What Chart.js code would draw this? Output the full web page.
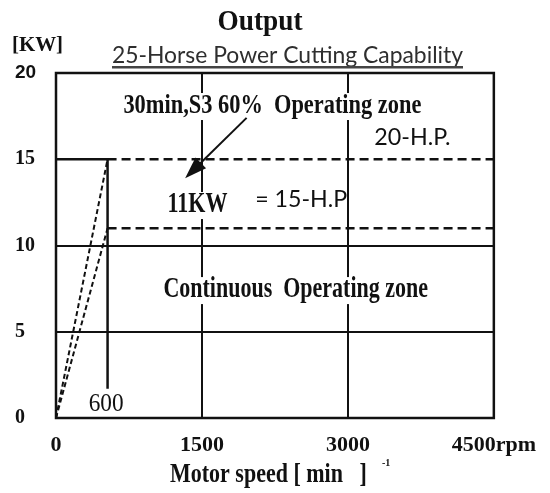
<!DOCTYPE html>
<html>
<head>
<meta charset="utf-8">
<script src="https://cdn.jsdelivr.net/npm/chart.js@4.4.1/dist/chart.umd.min.js"></script>
<style>
  body { margin: 0; background: #fff; }
  canvas { display: block; }
</style>
</head>
<body>
<canvas id="chart" width="550" height="493"></canvas>
<script>
// axis ticks
const speedTicks = [0, 1500, 3000, 4500];
const powerTicks = [0, 5, 10, 15, 20];

// solid limit line: 15 kW up to base speed, then down the base speed line
const limitSpeed = [0, 530, 530];
const limitPower = [15, 15, 1.7];

// 30min S3 60% output above base speed
const s3Speed = [530, 4500];
const s3Power = [15, 15];

// continuous output above base speed
const contSpeed = [530, 4500];
const contPower = [11, 11];

// constant torque ramps below base speed
const rampS3Speed = [0, 530];
const rampS3Power = [0, 15];
const rampContSpeed = [0, 530];
const rampContPower = [0, 11];

const serif = '"Liberation Serif", "Times New Roman", serif';
const sans = 'Lato, "Liberation Sans", sans-serif';
const ink = '#111';

function pts(xs, ys) {
    return xs.map((x, i) => ({ x: x, y: ys[i] }));
}

function fitFont(ctx, text, weight, family, width) {
    ctx.font = weight + ' 100px ' + family;
    const size = 100 * width / ctx.measureText(text).width;
    return weight + ' ' + size.toFixed(1) + 'px ' + family;
}

// text stretched vertically like the scanned original
function tallText(ctx, text, x, y, sy) {
    ctx.save();
    ctx.translate(x, y);
    ctx.scale(1, sy);
    ctx.fillText(text, 0, 0);
    ctx.restore();
}

// notes inside the plot, placed in data units
const notes = [
    { text: '30min,S3 60%  Operating zone', x: 2224, y: 17.68, w: 298, sy: 1.25, weight: 'bold', family: serif, clear: true },
    { text: '20-H.P.', x: 3663, y: 15.83, w: 76, sy: 1, weight: 'normal', family: sans, clear: false },
    { text: '11KW', x: 1454, y: 11.94, w: 60, sy: 1.3, weight: 'bold', family: serif, clear: true },
    { text: '= 15-H.P', x: 2520, y: 12.23, w: 92, sy: 1, weight: 'normal', family: sans, clear: false },
    { text: 'Continuous  Operating zone', x: 2464, y: 7.01, w: 265, sy: 1.3, weight: 'bold', family: serif, clear: true },
    { text: '600', x: 515, y: 0.41, w: 35, sy: 1.1, weight: 'normal', family: serif, clear: false }
];

const arrowFrom = { x: 1959, y: 17.4 };
const arrowTo = { x: 1327, y: 13.9 };

const dashedLine = (data, dash, width) => ({
    data: data,
    showLine: true,
    borderColor: ink,
    borderWidth: width,
    borderDash: dash,
    pointRadius: 0,
    fill: false
});

const decorations = {
    id: 'decorations',
    afterDatasetsDraw(chart) {
        const ctx = chart.ctx;
        const xs = chart.scales.x;
        const ys = chart.scales.y;
        const area = chart.chartArea;
        ctx.save();

        // frame
        ctx.strokeStyle = ink;
        ctx.lineWidth = 2.5;
        ctx.strokeRect(area.left, area.top, area.right - area.left, area.bottom - area.top);

        ctx.textAlign = 'center';
        ctx.textBaseline = 'alphabetic';
        notes.forEach(n => {
            ctx.font = fitFont(ctx, n.text, n.weight, n.family, n.w);
            const px = xs.getPixelForValue(n.x);
            const py = ys.getPixelForValue(n.y);
            if (n.clear) {
                ctx.fillStyle = '#fff';
                ctx.fillRect(px - n.w / 2 - 2, py - 20, n.w + 4, 27);
            }
            ctx.fillStyle = ink;
            tallText(ctx, n.text, px, py, n.sy);
        });

        // arrow
        const x1 = xs.getPixelForValue(arrowFrom.x), y1 = ys.getPixelForValue(arrowFrom.y);
        const x2 = xs.getPixelForValue(arrowTo.x), y2 = ys.getPixelForValue(arrowTo.y);
        const ang = Math.atan2(y2 - y1, x2 - x1);
        ctx.strokeStyle = ink;
        ctx.lineWidth = 2;
        ctx.beginPath();
        ctx.moveTo(x1, y1);
        ctx.lineTo(x2 - 16 * Math.cos(ang), y2 - 16 * Math.sin(ang));
        ctx.stroke();
        ctx.fillStyle = ink;
        ctx.beginPath();
        ctx.moveTo(x2, y2);
        ctx.lineTo(x2 - 22 * Math.cos(ang) + 7.5 * Math.sin(ang), y2 - 22 * Math.sin(ang) - 7.5 * Math.cos(ang));
        ctx.lineTo(x2 - 22 * Math.cos(ang) - 7.5 * Math.sin(ang), y2 - 22 * Math.sin(ang) + 7.5 * Math.cos(ang));
        ctx.closePath();
        ctx.fill();

        // titles and axis captions
        ctx.fillStyle = ink;
        ctx.font = fitFont(ctx, 'Output', 'bold', serif, 85);
        tallText(ctx, 'Output', 260, 30, 1.05);

        ctx.fillStyle = '#2e2e2e';
        ctx.font = fitFont(ctx, '25-Horse Power Cutting Capability', 'normal', sans, 351);
        ctx.fillText('25-Horse Power Cutting Capability', 287.5, 63);
        ctx.fillStyle = '#444';
        ctx.fillRect(112, 66, 351, 2.5);

        ctx.fillStyle = ink;
        ctx.textAlign = 'left';
        ctx.font = fitFont(ctx, '[KW]', 'bold', serif, 51);
        ctx.fillText('[KW]', 12, 51);

        ctx.font = fitFont(ctx, 'Motor speed [ min   ]', 'bold', serif, 197);
        tallText(ctx, 'Motor speed [ min   ]', 170, 482, 1.2);
        ctx.font = 'bold 10px ' + serif;
        ctx.fillText('-1', 382, 466);

        ctx.restore();
    }
};

new Chart(document.getElementById('chart'), {
    type: 'scatter',
    data: {
        datasets: [
            { data: pts(limitSpeed, limitPower), showLine: true, borderColor: ink, borderWidth: 2.5, pointRadius: 0, fill: false },
            dashedLine(pts(s3Speed, s3Power), [9, 5], 2.5),
            dashedLine(pts(contSpeed, contPower), [9, 5], 2.5),
            dashedLine(pts(rampS3Speed, rampS3Power), [5, 3], 2),
            dashedLine(pts(rampContSpeed, rampContPower), [5, 3], 2)
        ]
    },
    options: {
        responsive: false,
        animation: false,
        layout: { padding: { left: 15, right: 53, top: 73, bottom: 35 } },
        plugins: {
            legend: { display: false },
            tooltip: { enabled: false }
        },
        scales: {
            x: {
                type: 'linear',
                min: speedTicks[0],
                max: speedTicks[speedTicks.length - 1],
                afterBuildTicks: s => { s.ticks = speedTicks.map(v => ({ value: v })); },
                afterFit: s => { s.height = 40; },
                border: { display: false },
                grid: {
                    drawTicks: false,
                    lineWidth: 2,
                    color: c => (c.tick && c.tick.value > 0 && c.tick.value < 4500) ? ink : 'rgba(0,0,0,0)'
                },
                ticks: {
                    padding: 14,
                    color: ink,
                    font: { family: serif, size: 22, weight: 'bold' },
                    callback: v => v === 4500 ? '4500rpm' : String(v)
                }
            },
            y: {
                min: powerTicks[0],
                max: powerTicks[powerTicks.length - 1],
                afterBuildTicks: s => { s.ticks = powerTicks.map(v => ({ value: v })); },
                afterFit: s => { s.width = 41; },
                border: { display: false },
                grid: {
                    drawTicks: false,
                    lineWidth: 2,
                    color: c => (c.tick && (c.tick.value === 5 || c.tick.value === 10)) ? ink : 'rgba(0,0,0,0)'
                },
                ticks: {
                    crossAlign: 'far',
                    color: ink,
                    font: c => (c.tick && c.tick.value === 20)
                        ? { family: '"Liberation Sans", Arial, sans-serif', size: 19, weight: 'bold' }
                        : { family: serif, size: 20, weight: 'bold' }
                }
            }
        }
    },
    plugins: [decorations]
});
</script>
</body>
</html>
